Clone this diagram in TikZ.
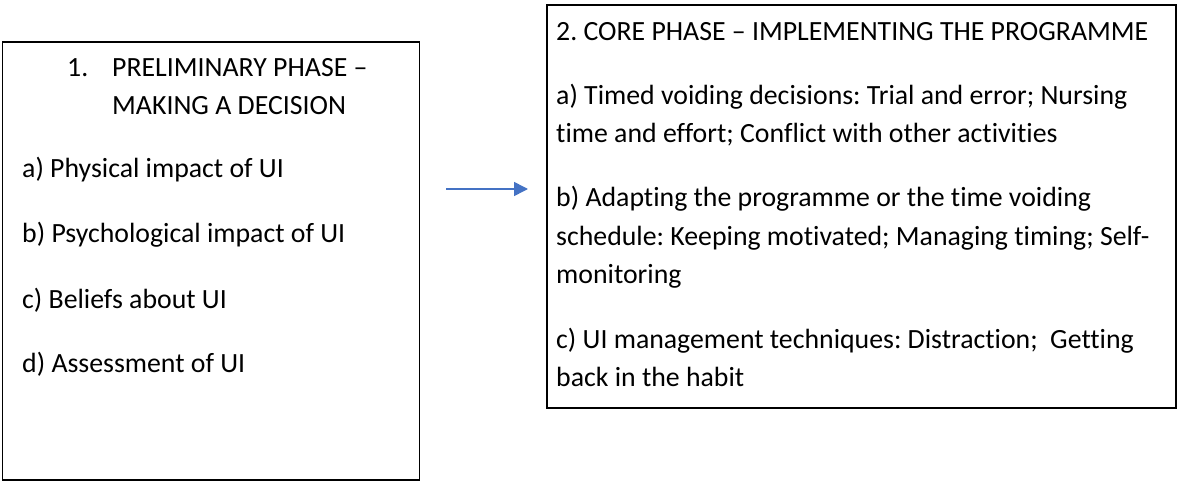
\documentclass[tikz,border=0pt]{standalone}
\usepackage{fontspec}
\setmainfont{Carlito}[Ligatures=NoCommon]
\usetikzlibrary{arrows.meta}

\definecolor{flowblue}{RGB}{68,114,196}
\frenchspacing

\begin{document}
\begin{tikzpicture}[x=1pt, y=-1pt,
  font=\fontsize{27.8}{38}\selectfont,
  phasebox/.style={draw=black, line width=1.6pt, anchor=north west, inner sep=0pt},
  txt/.style={anchor=base west, inner sep=0pt},
  flow/.style={draw=flowblue, line width=1.5pt, -{Triangle[length=14pt, width=14pt]},
               shorten <=26pt, shorten >=18pt},
  ]
  \useasboundingbox (0,0) rectangle (1178,481);

  %%% phase boxes %%%
  \node[phasebox, minimum width=417pt, minimum height=438pt] (prelim) at (1.5,41) {};
  \node[phasebox, minimum width=629pt, minimum height=403pt] (core) at (546,4) {};

  %%% phase 1 heading (numbered, hanging indent) %%%
  \node[txt] (pre-num) at (67,77) {1.};
  \node[txt] (pre-h1) at (112,77)  {PRELIMINARY PHASE --};
  \node[txt] (pre-h2) at (112,115) {MAKING A DECISION};

  %%% phase 1 items %%%
  \foreach \ly/\lt [count=\i] in {178/a) Physical impact of UI,
                                  243/b) Psychological impact of UI,
                                  308/c) Beliefs about UI,
                                  372/d) Assessment of UI}
    \node[txt] (pre-\i) at (22,\ly) {\lt};

  %%% phase 2 heading and items %%%
  \node[txt] (core-h) at (556,41) {2. CORE PHASE -- IMPLEMENTING THE PROGRAMME};
  \foreach \ly/\lt [count=\i] in {105/a) Timed voiding decisions: Trial and error; Nursing,
                                  143/time and effort; Conflict with other activities,
                                  207/b) Adapting the programme or the time voiding,
                                  245/schedule: Keeping motivated; Managing timing; Self-,
                                  283/monitoring,
                                  348/c) UI management techniques: Distraction;~ Getting,
                                  386/back in the habit}
    \node[txt] (core-\i) at (556,\ly) {\lt};

  %%% link between the phases %%%
  \coordinate (arr) at (0,189);
  \draw[flow] (prelim.east |- arr) -- (core.west |- arr);
\end{tikzpicture}
\end{document}
